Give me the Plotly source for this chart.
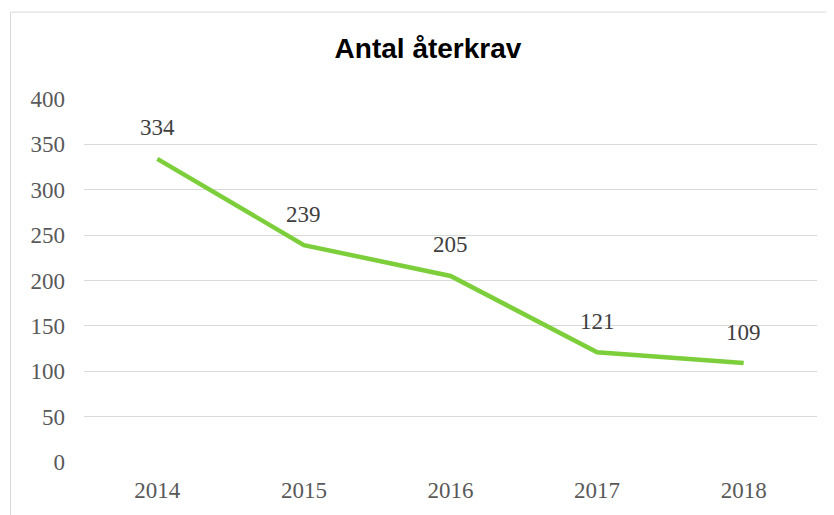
import plotly.graph_objects as go

years = ["2014", "2015", "2016", "2017", "2018"]
counts = [334, 239, 205, 121, 109]
y_ticks = [0, 50, 100, 150, 200, 250, 300, 350, 400]

# the page body has an 8px margin, so the figure is laid out 8px smaller/shifted
OFF = 8
W, H = 834 - OFF, 515 - OFF
L, R, T, B = 84 - OFF, 17, 98.5 - OFF, 51
pw, ph = W - L - R, H - T - B

line_color = "#7CCF3A"
serif = "Liberation Serif, Times New Roman, serif"

fig = go.Figure()
fig.add_trace(go.Scatter(
    x=years,
    y=counts,
    mode="lines",
    line=dict(color=line_color, width=4.5),
    hoverinfo="x+y",
))

# data labels above each point (category index, so "2014" is not read as a number)
for i, y in enumerate(counts):
    fig.add_annotation(
        x=i, y=y, text=str(y), showarrow=False,
        yshift=31, yanchor="middle",
        font=dict(family=serif, size=23, color="#404040"),
    )

# chart area border (partly outside the page, like the cropped screenshot)
fig.add_shape(
    type="rect", xref="paper", yref="paper",
    x0=(10.5 - OFF - L) / pw, x1=(W + 10 - L) / pw,
    y0=(T + ph - (H + 10)) / ph, y1=(T + ph - (11 - OFF)) / ph,
    line=dict(color="#d9d9d9", width=1),
    fillcolor="rgba(0,0,0,0)",
    layer="below",
)

fig.update_layout(
    width=W,
    height=H,
    margin=dict(l=L, r=R, t=T, b=B),
    paper_bgcolor="white",
    plot_bgcolor="white",
    showlegend=False,
    title=dict(
        text="<b>Antal återkrav</b>",
        x=(428 - OFF) / W, xref="container", xanchor="center",
        y=1 - (48 - OFF) / H, yref="container", yanchor="middle",
        font=dict(family="Liberation Sans, Arial, sans-serif", size=28, color="#000000"),
    ),
    xaxis=dict(
        type="category",
        range=[-0.5, 4.5],
        showgrid=False,
        zeroline=False,
        showline=False,
        ticks="",
        ticklabelstandoff=12,
        tickfont=dict(family=serif, size=23, color="#595959"),
    ),
    yaxis=dict(
        range=[0, 400],
        tickvals=y_ticks,
        showgrid=True,
        gridcolor="#d9d9d9",
        gridwidth=1,
        zeroline=False,
        showline=False,
        ticks="",
        ticklabelstandoff=18,
        tickfont=dict(family=serif, size=23, color="#595959"),
    ),
)

fig.write_html("out.html")
